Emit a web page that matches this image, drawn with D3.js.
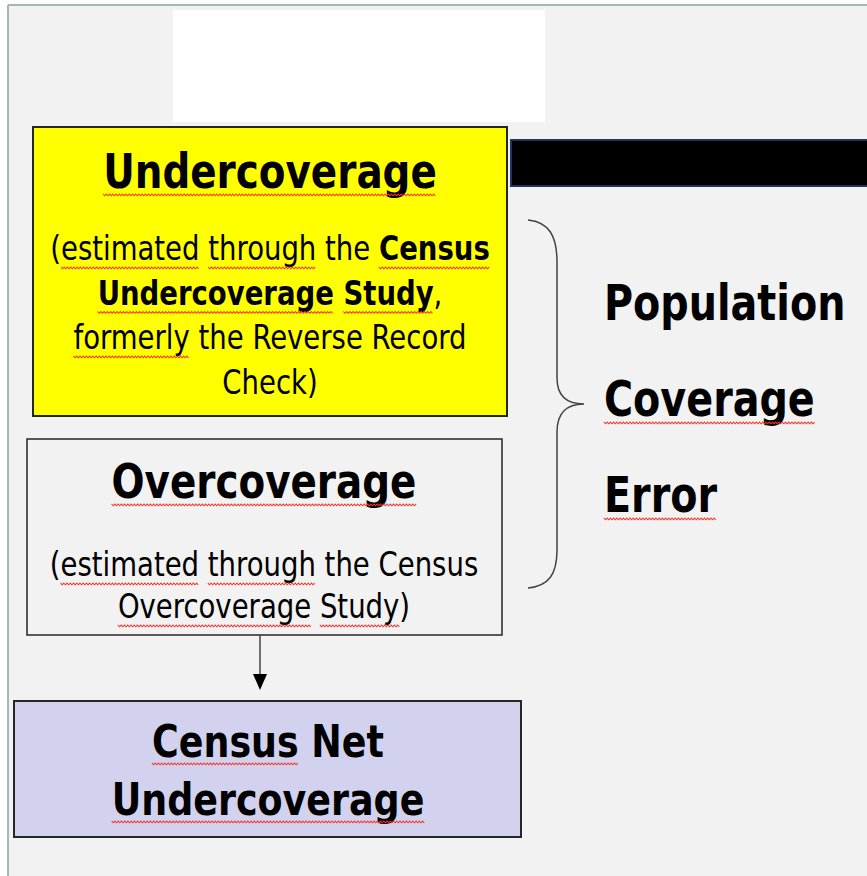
<!DOCTYPE html>
<html>
<head>
<meta charset="utf-8">
<script src="https://cdn.jsdelivr.net/npm/d3@7"></script>
<style>
	html, body {margin: 0; padding: 0; background: #ffffff;}
	svg {display: block;}
</style>
</head>
<body>
<div id="diagram"></div>
<script>
// text of the diagram: * toggles bold, ~ marks words with the red spell-check squiggle
const underTitle = ["~Undercoverage~"]
const underNote = [
	"(~estimated~ ~through~ the *~Census~*",
	"*~Undercoverage~ ~Study~*,",
	"~formerly~ the Reverse Record",
	"Check)"
]
const overTitle = ["~Overcoverage~"]
const overNote = [
	"(~estimated~ ~through~ the Census",
	"~Overcoverage~ ~Study~)"
]
const netLines = ["*~Census~ Net*", "*~Undercoverage~*"]
const errorLines = ["*Population*", "*~Coverage~*", "*~Error~*"]

class flowDiagram{
	constructor(parentElement){
		this.parentElement = parentElement
		this.initVis()
	}

	initVis(){
		let vis = this;

		vis.width = 867
		vis.height = 876
		vis.squeeze = 0.9   // the screenshot text is a bit narrower than the font

		vis.svg = d3.select("#" + vis.parentElement).append("svg")
				.attr("width", vis.width)
				.attr("height", vis.height)

		// page background and its frame
		vis.svg.append("rect")
				.attr("x", 8).attr("y", 5)
				.attr("width", vis.width).attr("height", vis.height)
				.attr("fill", "#f2f2f2")
		vis.svg.append("line")
				.attr("x1", 8).attr("x2", vis.width).attr("y1", 5).attr("y2", 5)
				.attr("stroke", "#a3b6bb").attr("stroke-width", 2)
		vis.svg.append("line")
				.attr("x1", 8).attr("x2", 8).attr("y1", 5).attr("y2", vis.height)
				.attr("stroke", "#a3b6bb").attr("stroke-width", 2)

		// blank white header block
		vis.svg.append("rect")
				.attr("x", 173).attr("y", 10)
				.attr("width", 372).attr("height", 112)
				.attr("fill", "#ffffff")

		// black bar on the right
		vis.svg.append("rect")
				.attr("x", 511).attr("y", 140)
				.attr("width", 360).attr("height", 46)
				.attr("fill", "#000000")
				.attr("stroke", "#1f3560").attr("stroke-width", 2)

		vis.boxes = [
			{x: 33, y: 127, w: 474, h: 289, fill: "#ffff00", sw: 2},
			{x: 27, y: 439, w: 475, h: 196, fill: "#f2f2f2", sw: 1.5},
			{x: 14, y: 701, w: 507, h: 136, fill: "#d2d2ef", sw: 2}
		]
		vis.svg.selectAll(".box")
				.data(vis.boxes)
				.join("rect")
				.attr("class", "box")
				.attr("x", d => d.x).attr("y", d => d.y)
				.attr("width", d => d.w).attr("height", d => d.h)
				.attr("fill", d => d.fill)
				.attr("stroke", "#262626")
				.attr("stroke-width", d => d.sw)

		// arrow from overcoverage down to net undercoverage
		vis.svg.append("line")
				.attr("x1", 260).attr("x2", 260).attr("y1", 635).attr("y2", 676)
				.attr("stroke", "#444").attr("stroke-width", 1.5)
		vis.svg.append("path")
				.attr("d", "M253,674 L267,674 L260,690 Z")
				.attr("fill", "#000")

		// curly brace
		vis.svg.append("path")
				.attr("d", "M528,220 C549,222 557,236 557,262 L557,378 C557,396 567,404 584,404"
						+ " C567,404 557,413 557,432 L557,550 C557,574 549,586 528,588")
				.attr("fill", "none")
				.attr("stroke", "#444")
				.attr("stroke-width", 1.5)

		vis.squiggle = d3.line()

		vis.drawBlock(underTitle, 270, 188, 0, 48, true)
		vis.drawBlock(underNote, 270, 260, 44.5, 34, false)
		vis.drawBlock(overTitle, 264, 498, 0, 48, true)
		vis.drawBlock(overNote, 264, 576, 42, 34, false)
		vis.drawBlock(netLines, 268, 757, 58, 45, false)
		vis.drawBlock(errorLines, 604, 320, 96, 49, false, "start")
	}

	// split a marked-up line into runs of {text, bold, squiggle}
	parseLine(str, boldDefault){
		let runs = []
		let bold = boldDefault, sq = false, cur = ""
		for (const ch of str){
			if (ch === "*" || ch === "~"){
				if (cur.length) runs.push({text: cur, bold: bold, sq: sq})
				cur = ""
				if (ch === "*") bold = !bold
				else sq = !sq
			} else {
				cur += ch
			}
		}
		if (cur.length) runs.push({text: cur, bold: bold, sq: sq})
		return runs
	}

	drawBlock(lines, x, y0, lineHeight, size, bold, anchor = "middle"){
		let vis = this;

		lines.forEach((line, i) => {
			let runs = vis.parseLine(line, bold)
			let g = vis.svg.append("g")
					.attr("transform", `translate(${x},${y0 + i * lineHeight}) scale(${vis.squeeze},1)`)

			let text = g.append("text")
					.attr("text-anchor", anchor)
					.style("font-family", "'DejaVu Sans Condensed', 'DejaVu Sans', sans-serif")
					.style("font-stretch", "condensed")
					.style("font-size", size + "px")
					.attr("fill", "#000")

			text.selectAll("tspan")
					.data(runs)
					.join("tspan")
					.style("font-weight", d => d.bold ? "bold" : "normal")
					.text(d => d.text)

			// red wavy underline under flagged words
			let node = text.node()
			let idx = 0
			runs.forEach(r => {
				if (r.sq){
					let x0 = node.getStartPositionOfChar(idx).x
					let x1 = node.getEndPositionOfChar(idx + r.text.length - 1).x
					let base = size > 40 ? 6 : 7
					let pts = []
					let k = 0
					for (let px = x0; px <= x1; px += 1.8){
						pts.push([px, base + (k % 2 === 0 ? 0 : 1.8)])
						k++
					}
					g.append("path")
							.attr("d", vis.squiggle(pts))
							.attr("fill", "none")
							.attr("stroke", "#ee3b30")
							.attr("stroke-width", 1.1)
				}
				idx += r.text.length
			})
		})
	}
}

new flowDiagram("diagram")
</script>
</body>
</html>
